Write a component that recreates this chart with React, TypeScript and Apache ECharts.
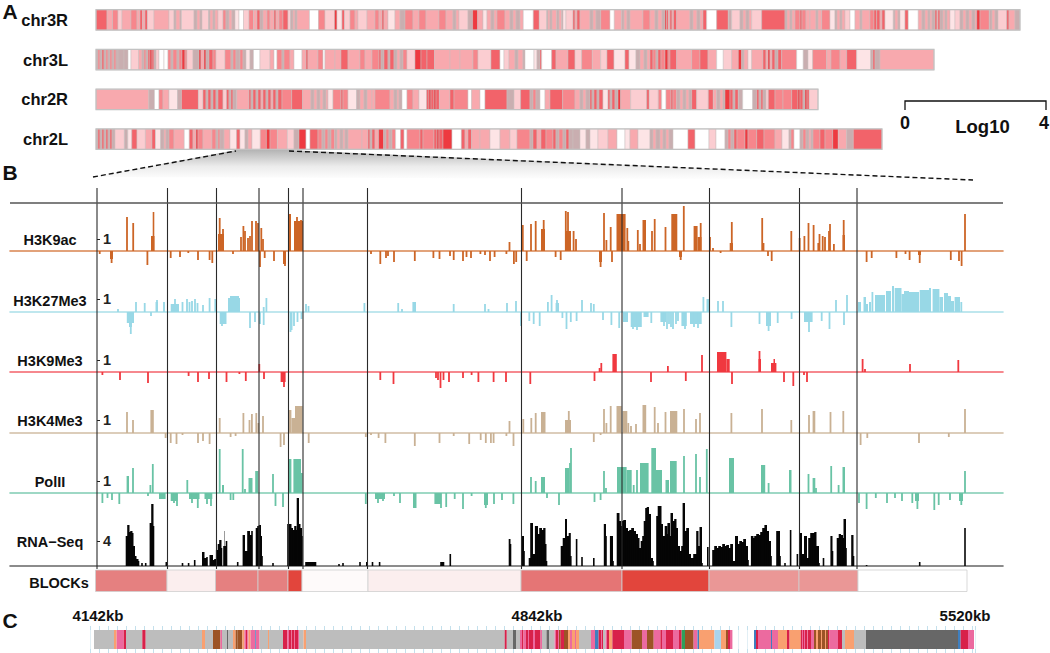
import React, { useEffect, useRef } from "react";
import * as echarts from "echarts";

// ---- Panel A: chromosome bands. [band start, density class]
const chromNames = ["chr3R", "chr3L", "chr2R", "chr2L"];
const chr3R = [[96,5],[107,3],[112.5,4],[118,2],[122,3],[131,4],[137,3],[140,5],[142.5,3],[145,5],[147.5,2],[154,3],[169,2],[174,7],[176,3],[180,7],[181.5,2],[194,7],[197,3],[200,7],[202,2],[208.5,7],[210,3],[213,7],[215,3],[218,2],[223,4],[226,7],[229,3],[232,7],[235,1],[239,0],[243.5,2],[249,4],[253.5,3],[257,5],[260,7],[263,3],[267,4],[270,3],[274,5],[276,3],[279,4],[283,5],[288,2],[290.5,7],[293,3],[295,7],[297,3],[309.5,0],[318.5,4],[325,2],[334.5,6],[337,1],[342,5],[344.5,2],[350,4],[355,3],[358,2],[367,3],[375,4],[379,3],[382,5],[384,3],[388,1],[395,3],[400,7],[405,4],[413,3],[419,4],[426,3],[439,4],[446,3],[453,7],[456,3],[459,2],[468,7],[472.6,6],[477.7,3],[483,1],[487,3],[491,7],[494,3],[497,4],[505,3],[510,7],[513,3],[516,7],[520,3],[523.3,0],[533.3,5],[539.3,2],[546.7,7],[548,3],[550,7],[552,3],[556.7,7],[559,3],[561.7,7],[563,1],[566,2],[573,5],[575,3],[577,5],[580,3],[590,7],[593,3],[596,7],[600.7,4],[610,0],[614.3,3],[621.7,7],[624,3],[627,7],[630,3],[643,4],[650,3],[655,7],[658,3],[662,7],[665,6],[666.7,5],[668.5,3],[670,5],[672,3],[673.5,5],[676.7,3],[690,7],[693,3],[697,7],[700,3],[703,5],[706.7,0],[716.7,5],[728.3,7],[731.7,2],[740,7],[743,3],[746,7],[749,3],[751.7,2],[761.7,5],[785,7],[787,3],[790,7],[792,3],[795,4],[800,5],[802,4],[806,3],[810,3],[816,7],[818,3],[821.7,4],[830,1],[835,7],[837,3],[840,7],[842,3],[845,2],[850,0],[855,3],[860,7],[862,3],[870,4],[874,5],[876.7,5],[880,3],[882,5],[885,1],[893.3,7],[895,3],[898,7],[900,1],[905,5],[908.3,0],[918.3,3],[922,7],[925,3],[928,7],[930,3],[932,7],[935,5],[937,3],[938,5],[940,7],[943,3],[945,7],[947,3],[950,1],[955,2],[960,7],[963,3],[966,7],[969,3],[972,7],[975,3],[976.7,6],[980,4],[989.3,7],[992,3],[995,7],[998,2],[1006.7,5],[1009,3],[1015,7]];
const chr3L = [[96,7],[98,4],[100,7],[102,5],[104,7],[106,4],[108,7],[110,4],[112,7],[114,4],[116,7],[118,7],[124,7],[128,0],[131,2],[138.6,3],[142,7],[144,4],[146,7],[148,5],[150,6],[152,5],[154,7],[156,2],[159,0],[164,0],[168,4],[171,7],[173,4],[177,7],[179,4],[182,6],[185,4],[187,2],[193,7],[199,6],[201,3],[204,6],[206,7],[209,5],[213,4],[216,2],[225,4],[231,7],[233,4],[236,7],[240,4],[243,7],[246,1],[250,7],[253.5,0],[260,2],[270,3],[274,0],[277,4],[282,7],[284,4],[290,3],[294,0],[302,3],[306,5],[308,3],[318,4],[323,0],[325,3],[335,3],[341,5],[348,3],[360,4],[365,3],[372,4],[379,5],[381,7],[384,5],[388,7],[390,5],[394,7],[397,3],[400,7],[403,4],[407,2],[415,6],[421,5],[427,5],[434.5,3],[450,3],[460,3],[473,4],[478,2],[491,5],[500,0],[504,2],[509,3],[515,7],[518,3],[523,7],[525,0],[534,1],[537,7],[540,5],[541.7,0],[551.7,5],[556,3],[568,5],[575,2],[581.7,4],[592.3,3],[600.7,2],[607,5],[614,1],[625,5],[629,1],[636,7],[640,3],[644,7],[647,3],[650,5],[653,4],[656,7],[658,5],[661,4],[665,6],[668,4],[670,5],[676.7,3],[691.7,4],[700,5],[708,3],[716.7,0],[723.3,2],[731.7,3],[738.3,6],[741.7,7],[744,3],[748,1],[751.7,3],[763,5],[766,3],[768,6],[770,3],[772,5],[775,7],[778,5],[781.7,4],[796.7,0],[803.3,7],[808,1],[812.7,4],[826.7,3],[831,4],[840,3],[846.7,5],[856.7,1],[870.7,7],[873,5],[875,7],[880,3]];
const chr2R = [[96,3],[148.8,7],[154.5,0],[159,4],[163,3],[169,1],[177.5,7],[181.5,5],[198.4,2],[203,5],[206,7],[208,5],[211,7],[213,5],[216,7],[218,5],[223,2],[226.5,5],[229,7],[231,5],[233,7],[236.7,3],[249,5],[251,7],[253,5],[256,7],[258,5],[261,3],[263,5],[266,7],[268,5],[271,3],[273,5],[276,7],[278,5],[282,4],[291.7,5],[302.6,3],[311,7],[314,3],[317,7],[320,3],[323,7],[326,3],[328,1],[333,4],[341,5],[343,4],[348,1],[356.5,7],[360,3],[364,7],[367,3],[372,3],[375,4],[390,3],[394,7],[397,3],[399,7],[402,0],[407,4],[413,3],[419,1],[426.6,5],[429,6],[431,5],[434,6],[436,5],[439.4,3],[450,5],[454,4],[468,0],[471.6,3],[480,0],[485,5],[507,7],[514,2],[520.6,5],[530,7],[533,4],[536,7],[540,0],[545,3],[550,5],[562.7,4],[575,3],[580,7],[583,3],[586,7],[590,5],[592,7],[594,5],[597,7],[599,5],[603,1],[608,5],[610,7],[612,5],[615,7],[618,6],[620.7,3],[630.7,2],[646.7,5],[649.3,2],[658.3,4],[661.7,0],[666,4],[671,5],[673,4],[676.7,7],[680,3],[683,7],[686,3],[689,7],[691.7,5],[696.7,2],[708.3,5],[713.3,3],[716.7,7],[720,3],[723,7],[725,6],[730,5],[733,7],[735,5],[738.3,7],[742.7,0],[752.7,7],[756.7,5],[759,7],[761,5],[763,7],[766,2],[768.3,5],[775,4],[783,4],[791.7,5],[798,6],[800,5],[803,7],[805,6],[807,5],[809.3,2]];
const chr2L = [[96,7],[98,5],[100,7],[102,5],[104,7],[106,5],[108,7],[110,5],[112,7],[115,2],[124.4,7],[127.8,1],[131.8,5],[137,2],[145.4,3],[152,5],[155.5,1],[160.6,7],[164,3],[166,7],[169,4],[174,3],[184.3,0],[189.3,5],[193,3],[196,6],[198,4],[203,3],[212,4],[216,7],[218,4],[220,7],[224,3],[230,1],[236.6,5],[240,1],[245,7],[248,3],[252,1],[260.3,4],[266.4,6],[270,4],[277.4,3],[287.4,2],[294,7],[299,6],[306,0],[310,5],[318,4],[322,7],[325,4],[328,7],[331,4],[334.7,7],[337,3],[340,7],[343,3],[345,7],[348,3],[362,3],[368,5],[370,7],[372,5],[375,3],[378.6,6],[383.7,7],[386,4],[389,7],[392,4],[395.6,0],[400.6,5],[404,0],[407,4],[420,5],[423,4],[434,5],[437,6],[439,5],[443,6],[452,0],[461.4,5],[465,3],[468,5],[471.6,3],[480,3],[490,1],[500,3],[510,2],[517,4],[530,7],[533,5],[537,3],[541,5],[546,4],[553,5],[556,7],[559,4],[563,7],[566,5],[569,7],[573,7],[580,1],[586,7],[590,1],[598,2],[608,3],[617,0],[625,1],[630,3],[638,1],[650,7],[653,3],[656,7],[660,3],[663,7],[666,3],[669,7],[673,0],[688,5],[695,0],[709,2],[716,0],[725,7],[728,4],[731,7],[734,5],[737,4],[745,6],[748,4],[756.7,5],[764,4],[775,3],[782,1],[789,7],[791,4],[794,0],[800,7],[803,4],[806,7],[809,3],[811,7],[813,4],[820,5],[825,4],[832.7,6],[838.3,3],[846.7,7],[853.3,5]];
const chromEnds = [1020, 934, 818, 882];

// ---- Panel B: signal tracks. [position, signal] or [from, signal, to]; negative = lower strand.
const vLines = [97, 167.5, 216.5, 259, 288.5, 303, 367.5, 521.5, 622, 709.5, 799.5, 857];
const h3k9ac = [[127,34],[133.2,28],[151,15,154.5],[152.7,39,154.3],[218,17,224],[219.7,33],[223,22],[241,14],[243.4,25],[245,20],[248,13],[252,30],[250,15],[256,30],[258,28],[261.3,23],[263,12],[288,37,291],[294,30,303],[294,22,296],[297,34],[299,26],[301,31],[509.5,9],[522.8,26],[531,27],[535.7,30],[541,22,545],[543.7,31],[565.8,40],[568,39],[565,20,571],[573.6,20],[576,12],[604,38],[606.4,11],[610.7,24],[616.5,37,625.6],[627.3,23],[628.3,10],[637.8,21],[640,7],[642.5,31,646],[652,20],[654.7,32],[665.5,24],[671.3,37,677.3],[683.8,45],[693.6,25,697.6],[697.6,14,701.5],[700.7,28],[710,14],[713,3],[731.8,29],[729.7,8,733],[762.2,33],[763.5,8],[791.3,20],[799.7,13],[804.4,15],[808.5,28],[813.6,26],[818.3,8],[819.5,17],[822.7,15],[825,14],[830,27],[829,20],[833.9,7],[843.7,31],[842.5,16,845],[965,37],
[99.7,-3],[111.6,-12],[110,-8,113],[147.4,-14],[170.7,-7],[180,-6],[188.3,-2],[198,-9],[209.6,-9],[212.3,-12],[233,-3],[260,-16],[264.7,-7],[274,-10],[283,-13,286],[285,-15],[371,-3],[380.3,-13],[386,-7],[388,-5],[394,-11],[414.8,-10],[433.4,-7],[439.5,-8],[450,-5],[453.7,-9],[463,-10],[466.5,-6],[471,-7],[480.4,-3],[485,-4],[490,-10],[494.6,-6],[506.4,-3],[513.9,-13],[516.2,-11],[526.7,-10],[555.6,-6],[560.7,-9],[599,-11,602],[600.6,-16],[612,-11],[679,-6,682],[680.7,-9],[720.6,-2],[768,-5],[771.7,-10],[866.6,-11],[871.7,-7],[896.4,-7],[905.5,-3],[909.6,-9],[919.7,-12],[918,-4,921],[950.8,-9],[959,-10],[961.6,-15]];
const h3k27me3 = [[118,3],[136,10],[144.7,9],[155.5,10,158],[157,12],[164,10],[170.7,8,179],[175,13],[182.5,10],[187,13],[189.5,10],[192,11],[195,13],[197.5,9],[203,7],[209.6,14],[215.3,13],[228,14,240],[230,16,239],[263.7,5],[266.4,14],[306,8],[308.5,6],[364.4,9],[398.2,9],[402,3],[412.4,10,416],[453.7,8],[485,8],[488.5,3],[507,9],[516,11],[547.9,10],[551.6,17],[555.6,9,559],[557,12],[582,12],[591,9],[593.8,8],[703.4,15],[706.5,13,709],[718,11],[723,11],[836,12],[847,17],[858,10,861],[863.5,15,866],[866,8,868],[869,10,871],[872.4,20],[875,17,885],[886,21,891],[892,26,894],[894.7,24,901.5],[901.5,18,904],[904,21,909],[909,20,919],[919.7,22,929],[929,24,931],[932.6,23,939.4],[939.4,15,943],[944,19,948],[948,16,951],[951,11,954],[954.6,15,960],[961.3,10],
[126.8,-11,134],[129,-15,132],[130.8,-22],[151,-4],[219.7,-12,226.5],[222,-14],[250,-16],[255,-10],[260,-12],[263.7,-13],[290,-18,292.5],[290.5,-20],[294,-14],[297.5,-10],[301.5,-7],[521,-14],[529.3,-9],[533.7,-12],[539.7,-14],[562.4,-6],[566.5,-17],[570.8,-10],[576.6,-9],[603,-8],[611.4,-13],[619.2,-16],[623,-10,628],[630.7,-15,641.8],[633,-17],[637,-18],[643.5,-5,648.6],[651.3,-11],[660.4,-10,666],[664,-14],[667,-17],[669,-12],[671,-15],[673,-17],[676,-12],[678,-9],[681.4,-14,686.8],[685,-17],[690,-12,701.7],[694,-15],[698,-16],[731.4,-15],[759.5,-12],[768.6,-19],[766,-14,771],[777.7,-11],[791.6,-7],[804,-10,812.6],[809,-20],[821.7,-9],[829.5,-17],[844,-13]];
const h3k9me3 = [[259.3,8],[599.6,4],[601.3,9],[612.4,18,616.8],[667.9,6],[702,17],[717,20,726.4],[726.4,13,729.7],[759.5,21],[758.5,13,761],[771,9,776.4],[773.5,13,775],[862.6,13],[865,3],[910,8],[958.3,12],
[102.4,-3],[120,-8],[148,-11],[188.6,-4],[198,-10],[209,-7],[226.5,-10],[239.4,-2],[245.8,-9],[264,-7],[280.6,-10,285.6],[284,-15],[380.3,-8],[393.5,-12],[436,-6],[438,-8],[440.5,-16],[443.5,-8],[449,-10],[463,-6],[471.6,-3],[478.4,-10],[493.6,-10],[506,-10],[530.3,-12],[594.5,-9],[651,-10],[685.8,-9],[732,-12],[784,-10],[793.3,-14],[804,-3],[807,-10]];
const h3k4me3 = [[127,21],[133,13],[150.4,23,153.8],[219.7,15],[243.4,20],[249.5,13],[251.9,19],[256.3,20],[258.3,10],[263,17],[289,23,291.4],[291.4,15,295],[295,27,302.6],[509.5,12],[523.3,14],[531.3,15],[535.7,20],[541,21,545.5],[565,13,571],[568.8,22],[604,24],[606.4,10],[610.7,27],[616.5,27,621.6],[622.6,22,627.3],[628.3,10],[631,7],[636,9],[642.5,28,646.2],[654.7,26],[658,10],[665.5,21],[670,22,677.3],[684,24],[696,14],[700,20],[731.4,20],[762,24],[791.3,13],[809,18],[812.6,22,815.3],[830.5,21],[843.3,22],[965,24],
[165.6,-5],[170.7,-10],[176.5,-11],[182.5,-2],[198,-10],[203,-8],[209.6,-11],[230.6,-4],[235.6,-3],[280.6,-14],[284,-12],[308.7,-10],[365.8,-4],[371,-2],[378.6,-5],[385.4,-10],[414.8,-13],[439.5,-10],[453.7,-3],[469.2,-11],[480.7,-7],[485.8,-10],[490.9,-10],[493.6,-10],[506.4,-3],[513.5,-13],[593.8,-9],[600.6,-2],[860.6,-12],[867.3,-5],[919,-10],[948.8,-4]];
const polII = [[126.6,17,129],[133,25],[150.4,8],[152.8,29],[187.3,13],[219.7,44],[222,8,224],[242.7,44],[245,4],[248.5,15,252.5],[255.2,22,258.3],[273,19],[289,34,291.4],[293.4,34,301],[301,20,302.6],[531,16],[535.7,12],[541,16,545],[565,25,569],[570,30],[571,45],[604,22],[606,5],[617,26,626.6],[626.6,23,631.7],[633.7,8],[637,23],[640,30,648.6],[651.3,45,656],[656,23,662],[665.5,13,669],[670,32,676.7],[684,37],[696,39],[700,16],[706.8,44],[729,35,734],[761,28,765.2],[768.6,10],[789,23,791.5],[808.5,19],[812.6,15,815.3],[816,5],[831.2,27],[838.6,8],[842.5,26,845],[965,22],
[102.4,-10],[107.5,-5],[112,-7],[119.3,-11],[148,-3],[159,-6,165.6],[170.7,-8,177.5],[174,-10],[177,-13],[189,-6,199.5],[192,-10],[197.8,-15],[204.5,-6,212.3],[207,-11],[211,-13],[230.6,-7],[233.3,-7],[275.5,-13],[283,-14],[365.8,-11],[375,-6,385],[378,-10],[383,-8],[394,-3],[400,-10],[413,-15,416.5],[434.4,-11,441],[441,-15],[446.2,-14],[454.7,-6],[463,-16],[471.6,-3],[485.8,-15],[484,-12,488],[494,-11],[502,-7],[513.4,-11],[547,-5],[559,-12],[594.5,-9],[600.6,-7],[859,-10],[866.6,-16],[875.8,-5],[887,-10],[895,-5],[902,-8],[912.3,-10],[917.4,-16],[915,-8,919],[934.3,-17],[938.7,-12],[950,-7],[961.3,-12],[959,-8,963]];
const rnaSeq = [[126.5,30],[128,41],[129.5,34],[131,35],[132.5,33],[133.5,20],[135,10],[136.5,7],[138.5,5],[142,3],[145.7,3],[150.4,43],[152,62],[153.5,40],[166.3,4],[182.5,3],[188.6,3],[194.7,6],[202.8,14],[204.5,8],[207,9],[210.3,11],[213,6],[215,7],[216.7,16],[218.5,22],[220,26],[221.5,18],[225.2,35],[224,20],[226.5,25],[237.7,4],[243.4,31],[245,15],[248,35],[250,31],[252,35],[256.5,38],[258,40],[259.5,41],[261,30],[262,10],[273,3],[288,42],[290,42],[291.5,38],[293,36],[295,40],[296.5,36],[297.5,68],[299,42],[300.5,38],[302,30],[306,4],[309,4],[311.5,4],[313.5,4],[315.5,4],[339,2],[343,3],[360,4],[366.8,4],[372.5,4],[379.6,4],[441,4],[443.5,4],[450.3,12],[509.5,27],[510.5,22],[522.8,30],[524,15],[529.5,8],[531,43],[533,12],[535.7,40],[538,32],[540,38],[542,36],[544,38],[545.5,22],[546.5,5],[561.5,20],[563.5,28],[565.8,47],[567,30],[569.5,33],[570.8,10],[576.6,27],[582,9],[593.8,8],[604.6,42],[606,30],[610.7,30],[613,5],[617.5,53],[619.5,45],[621,40],[622.5,45],[624,46],[626,38],[628,35],[630,36],[632,38],[634,35],[636,32],[638,28],[639.5,18],[641.5,25],[643,30],[644.5,45],[646,58],[647.5,59],[649,52],[651,8],[653,5],[657,50],[658.5,60],[660,60],[661.5,42],[663,30],[665.5,40],[667.5,32],[668.2,43],[670,30],[671.3,53],[673,45],[675,47],[676.5,38],[678,20],[680,15],[682,20],[683.4,63],[685,35],[687,38],[689,12],[691,8],[694,12],[697,35],[698.5,20],[700.3,39],[702,3],[707.8,19],[713,16],[715,20],[717,18],[719,20],[721,19],[723,22],[725,20],[727,21],[729,18],[731,22],[733,5],[735.8,30],[738,22],[740,25],[742,24],[744,27],[746,20],[748,6],[751.7,30],[753.5,28],[755,30],[757,32],[759,31],[761,34],[763,38],[765.2,41],[767,35],[769,25],[771,10],[777,35],[780,10],[785,3],[790.6,36],[797.4,12],[800.7,33],[802,12],[804.8,30],[807,8],[809,28],[811,33],[813,33],[815,34],[816.5,20],[819,3],[823.5,8],[831.2,30],[832.5,15],[837.5,28],[839.5,32],[841,31],[843,28],[844.3,47],[846,18],[852,31],[853.5,10],[866.6,1],[919.7,4],[965,38]];

// ---- BLOCKs: [start, density class], then the closing edge
const blockEdges = [95.5, 167, 215.5, 258, 288, 302, 368, 521, 622, 709, 799, 858];
const blockClasses = [2, 5, 2, 2, 0, 6, 5, 1, 0, 3, 3, 7];
const blockEnd = 967;

// ---- Panel C: chromatin states. [start, state]
const stateEnd = 974;
const states = [[94,0],[114,3],[116.6,1],[123.7,2],[126,0],[142.3,2],[145.7,0],[202,3],[205,0],[213,4],[220.4,1],[222,0],[227,7],[228,0],[233,3],[235.6,4],[237.7,4],[242.4,3],[244.4,1],[246,2],[247.5,1],[248.5,3],[250.5,1],[255.3,5],[256,1],[259.6,0],[268,3],[269,0],[283,2],[287.4,1],[289,2],[291,1],[291.7,2],[294,1],[294.7,2],[298,1],[299,0],[303.6,3],[306,0],[504.7,2],[506.8,0],[513,7],[516,0],[520,1],[522,2],[523.5,1],[526,2],[528,1],[529,2],[533,1],[535,2],[540.5,1],[542,0],[546.5,7],[549,0],[554.6,1],[556,2],[558,1],[559,4],[560.7,2],[564,4],[568,3],[570,1],[572,3],[575,1],[576,3],[579,0],[591,1],[595,5],[598.6,2],[601,1],[602,2],[603,0],[605.6,1],[607,2],[609,3],[612.4,2],[624,1],[631.7,4],[642,1],[647,4],[653.7,1],[660.4,2],[662,1],[666,2],[673,1],[679,2],[681.7,6],[685,4],[693.6,1],[697.5,5],[699,3],[703,3],[710,3],[714.5,8],[721,3],[726,4],[728,2],[730,1],[732.4,9],[754,5],[756,2],[758,1],[760,1],[771,5],[772,1],[778,3],[787,2],[789.6,3],[800.7,2],[802,1],[803,2],[804,1],[805,2],[807.5,1],[808,2],[811,1],[814,4],[816,3],[818,4],[821,3],[822,4],[825,3],[826,4],[828,2],[829.5,1],[838,2],[842,0],[845,3],[848,3],[854,0],[866,7],[958,5],[960.6,2],[968,1]];

const trackNames = ["H3K9ac", "H3K27Me3", "H3K9Me3", "H3K4Me3", "PolII", "RNA−Seq"];
const trackData = [h3k9ac, h3k27me3, h3k9me3, h3k4me3, polII, rnaSeq];
const trackTickValue = ["1", "1", "1", "1", "1", "4"];

const SHADES = ["#ffffff", "#fde4e6", "#fbcdd1", "#f8a9ae", "#f6868c", "#f2636a", "#ee3a40", "#c9aeb0"];
const BLOCK_COL = ["#e2453c", "#e57575", "#e58080", "#ea9796", "#e89190", "#fbeeee", "#fefafa", "#ffffff"];
const STATE_COL = ["#bdbdbd", "#ec6a9f", "#d8214a", "#f9a070", "#9c5426", "#3f7fbf", "#2ea05a", "#676767", "#a9d3ec", "#ffffff"];
const TRACK = [
  { base: 251, fill: "#cc6526", line: "#d9844f", tick: 12, ly: 240, up: 50, down: 30 },
  { base: 312, fill: "#98d8e6", line: "#abdfe9", tick: 13, ly: 301, up: 30, down: 30 },
  { base: 372, fill: "#f0383f", line: "#f3626a", tick: 12, ly: 361, up: 30, down: 25 },
  { base: 433, fill: "#c9b194", line: "#d1bda4", tick: 13, ly: 421, up: 35, down: 25 },
  { base: 493, fill: "#69c3a5", line: "#7fccb2", tick: 12, ly: 482, up: 50, down: 25 },
  { base: 566, fill: "#050505", line: "#666666", tick: 25, ly: 542, up: 70, down: 0 },
];

const rectOf = (a: number[], b: number[]) => ({
  x: Math.min(a[0], b[0]),
  y: Math.min(a[1], b[1]),
  width: Math.abs(b[0] - a[0]),
  height: Math.abs(b[1] - a[1]),
});

function toRanges(list: number[][], end: number) {
  return list.map((d, i) => [d[0], i + 1 < list.length ? list[i + 1][0] : end, d[1]]);
}

// RNA bins run into the next bin when it is close; spikes of the other tracks get a fixed width.
function rnaRanges(list: number[][]) {
  return list.map((d, i) => {
    const next = i + 1 < list.length ? list[i + 1][0] : Infinity;
    return [d[0] - 0.8, next - d[0] <= 3 ? next : d[0] + 0.8, d[1]];
  });
}
function spikeRanges(list: number[][]) {
  return list.map((d) => (d.length === 3 ? [d[0], d[2], d[1]] : [d[0] - 0.9, d[0] + 0.9, d[1]]));
}

function buildOption() {
  const grid: any[] = [];
  const xAxis: any[] = [];
  const yAxis: any[] = [];
  const series: any[] = [];
  const hidden = { axisLine: { show: false }, axisTick: { show: false }, axisLabel: { show: false }, splitLine: { show: false } };

  // Panel A
  grid.push({ left: 96, width: 924, top: -4, height: 163 });
  xAxis.push({ type: "value", gridIndex: 0, min: 96, max: 1020, ...hidden });
  yAxis.push({
    type: "category", gridIndex: 0, inverse: true, data: chromNames,
    axisLine: { show: false }, axisTick: { show: false }, splitLine: { show: false },
    axisLabel: { margin: 28, fontFamily: "Liberation Sans", fontWeight: "bold", fontSize: 16.5, color: "#111" },
  });
  const chromBands = [chr3R, chr3L, chr2R, chr2L].flatMap((b, r) =>
    toRanges(b, chromEnds[r]).map((d) => [d[0], d[1], r, d[2]])
  );
  series.push({
    type: "custom", xAxisIndex: 0, yAxisIndex: 0, clip: false, data: chromBands, encode: { x: [0, 1], y: 2 },
    renderItem: (_p: any, api: any) => {
      const a = api.coord([api.value(0), api.value(2)]);
      const b = api.coord([api.value(1), api.value(2)]);
      return {
        type: "rect",
        shape: { x: a[0], y: a[1] - 10.2, width: b[0] - a[0], height: 20.4 },
        style: { fill: SHADES[api.value(3)], stroke: "#c8bebe", lineWidth: 0.5 },
      };
    },
  });
  series.push({
    type: "custom", xAxisIndex: 0, yAxisIndex: 0, clip: false,
    data: chromEnds.map((e, r) => [96, e, r]), encode: { x: [0, 1], y: 2 },
    renderItem: (_p: any, api: any) => {
      const a = api.coord([api.value(0), api.value(2)]);
      const b = api.coord([api.value(1), api.value(2)]);
      return {
        type: "rect",
        shape: { x: a[0], y: a[1] - 10.2, width: b[0] - a[0], height: 20.4 },
        style: { fill: "none", stroke: "#c2c2c2", lineWidth: 1.2 },
      };
    },
  });

  // Panel B tracks
  TRACK.forEach((t, i) => {
    const g = grid.length;
    const isRna = i === TRACK.length - 1;
    grid.push({ left: 10, width: 993, top: t.base - t.up, height: t.up + t.down });
    xAxis.push({
      type: "value", gridIndex: g, min: 10, max: 1003,
      axisLine: { show: true, onZero: true, lineStyle: { color: t.line, width: 1.6 } },
      axisTick: { show: false }, axisLabel: { show: false }, splitLine: { show: false },
    });
    yAxis.push({
      type: "value", gridIndex: g, min: -t.down, max: t.up, position: "left", offset: -87,
      axisLine: { show: false }, splitLine: { show: false },
      axisTick: { show: true, inside: true, length: 3, customValues: [t.tick], lineStyle: { color: "#222" } },
      axisLabel: {
        show: true, inside: true, margin: 6, customValues: [t.tick], formatter: () => trackTickValue[i],
        fontFamily: "Liberation Sans", fontWeight: "bold", fontSize: 14.5, color: "#222",
      },
    });
    series.push({
      type: "custom", xAxisIndex: g, yAxisIndex: g, clip: false,
      data: isRna ? rnaRanges(trackData[i]) : spikeRanges(trackData[i]),
      encode: { x: [0, 1], y: 2 },
      renderItem: (_p: any, api: any) => ({
        type: "rect",
        shape: rectOf(api.coord([api.value(0), 0]), api.coord([api.value(1), api.value(2)])),
        style: { fill: t.fill },
      }),
    });
  });

  // Verticals and the top rule
  const ov = grid.length;
  grid.push({ left: 10, width: 993, top: 188, height: 381 });
  xAxis.push({ type: "value", gridIndex: ov, min: 10, max: 1003, ...hidden });
  yAxis.push({ type: "value", gridIndex: ov, min: 0, max: 381, inverse: true, ...hidden });
  series.push({
    type: "custom", xAxisIndex: ov, yAxisIndex: ov, z: 5, data: vLines.map((x) => [x]), encode: { x: 0 },
    renderItem: (_p: any, api: any) => {
      const a = api.coord([api.value(0), 0]);
      const b = api.coord([api.value(0), 381]);
      return { type: "line", shape: { x1: a[0], y1: a[1], x2: b[0], y2: b[1] }, style: { stroke: "#2a2a2a", lineWidth: 1.1 } };
    },
  });
  series.push({
    type: "custom", xAxisIndex: ov, yAxisIndex: ov, z: 5, data: [[10, 1003, 15]], encode: { x: [0, 1], y: 2 },
    renderItem: (_p: any, api: any) => {
      const a = api.coord([api.value(0), api.value(2)]);
      const b = api.coord([api.value(1), api.value(2)]);
      return { type: "line", shape: { x1: a[0], y1: a[1], x2: b[0], y2: b[1] }, style: { stroke: "#555", lineWidth: 1.4 } };
    },
  });

  // BLOCKs
  const bg = grid.length;
  grid.push({ left: 10, width: 993, top: 570, height: 21.5 });
  xAxis.push({ type: "value", gridIndex: bg, min: 10, max: 1003, ...hidden });
  yAxis.push({ type: "value", gridIndex: bg, min: 0, max: 1, ...hidden });
  series.push({
    type: "custom", xAxisIndex: bg, yAxisIndex: bg,
    data: blockEdges.map((e, i) => [e, i + 1 < blockEdges.length ? blockEdges[i + 1] : blockEnd, blockClasses[i]]),
    encode: { x: [0, 1] },
    renderItem: (_p: any, api: any) => ({
      type: "rect",
      shape: rectOf(api.coord([api.value(0), 0]), api.coord([api.value(1), 1])),
      style: { fill: BLOCK_COL[api.value(2)], stroke: "#cfcfcf", lineWidth: 0.8 },
    }),
  });

  // Panel C
  const cg = grid.length;
  grid.push({ left: 90, width: 885, top: 630, height: 19 });
  const cTick = { show: true, length: 4, lineStyle: { color: "#c4e0ec" } };
  xAxis.push({
    type: "value", gridIndex: cg, min: 90, max: 975, interval: 9, position: "top",
    axisLine: { show: false, onZero: false }, axisTick: cTick, axisLabel: { show: false },
    splitLine: { show: true, lineStyle: { color: "#e2eff5", width: 1 } },
  });
  xAxis.push({
    type: "value", gridIndex: cg, min: 90, max: 975, interval: 9, position: "bottom",
    axisLine: { show: false, onZero: false }, axisTick: cTick, axisLabel: { show: false }, splitLine: { show: false },
  });
  yAxis.push({ type: "value", gridIndex: cg, min: 0, max: 1, ...hidden });
  series.push({
    type: "custom", xAxisIndex: xAxis.length - 2, yAxisIndex: yAxis.length - 1,
    data: toRanges(states, stateEnd).filter((d) => d[2] !== 9), encode: { x: [0, 1] },
    renderItem: (_p: any, api: any) => ({
      type: "rect",
      shape: rectOf(api.coord([api.value(0), 0]), api.coord([api.value(1), 1])),
      style: { fill: STATE_COL[api.value(2)] },
    }),
  });

  const font = "Liberation Sans";
  const txt = (text: string, x: number, y: number, size: number, align = "center", weight: any = "bold") => ({
    type: "text", x, y, silent: true, z: 20,
    style: { text, fontFamily: font, fontSize: size, fontWeight: weight, fill: "#111", textAlign: align, textVerticalAlign: "middle" },
  });

  const graphic = [
    {
      type: "polygon", silent: true, z: -1,
      shape: { points: [[236, 150], [289, 150], [973, 180], [93, 177]] },
      style: {
        fill: new echarts.graphic.LinearGradient(0, 0, 0, 1, [
          { offset: 0, color: "#b4b4b4" },
          { offset: 0.55, color: "#ececec" },
          { offset: 1, color: "#ffffff" },
        ]),
      },
    },
    { type: "line", z: 6, silent: true, shape: { x1: 93, y1: 177, x2: 236, y2: 151 }, style: { stroke: "#111", lineWidth: 1.4, lineDash: [5, 3] } },
    { type: "line", z: 6, silent: true, shape: { x1: 289, y1: 151, x2: 973, y2: 180 }, style: { stroke: "#111", lineWidth: 1.4, lineDash: [5, 3] } },
    {
      type: "polyline", silent: true, z: 6,
      shape: { points: [[905, 110], [905, 101], [1046, 101], [1046, 110]] },
      style: { stroke: "#111", lineWidth: 1.3, fill: "none" },
    },
    txt("0", 905, 123, 18),
    txt("4", 1044, 123, 18),
    txt("Log10", 982.5, 126, 18.5),
    txt("A", 10, 11, 21),
    txt("B", 10, 172, 21),
    txt("C", 10, 620, 21),
    ...trackNames.map((n, i) => txt(n, 50, TRACK[i].ly, 14.5)),
    txt("BLOCKs", 59, 583, 14.5),
    txt("4142kb", 98, 615, 15),
    txt("4842kb", 537, 615, 15),
    txt("5520kb", 965, 615, 15),
  ];

  return { animation: false, backgroundColor: "#ffffff", grid, xAxis, yAxis, series, graphic };
}

export default function App() {
  const ref = useRef<HTMLDivElement>(null);
  useEffect(() => {
    const chart = echarts.init(ref.current!, undefined, { renderer: "svg" });
    chart.setOption(buildOption() as any);
    return () => chart.dispose();
  }, []);
  return <div ref={ref} style={{ position: "fixed", left: 0, top: 0, width: 1050, height: 653 }} />;
}
